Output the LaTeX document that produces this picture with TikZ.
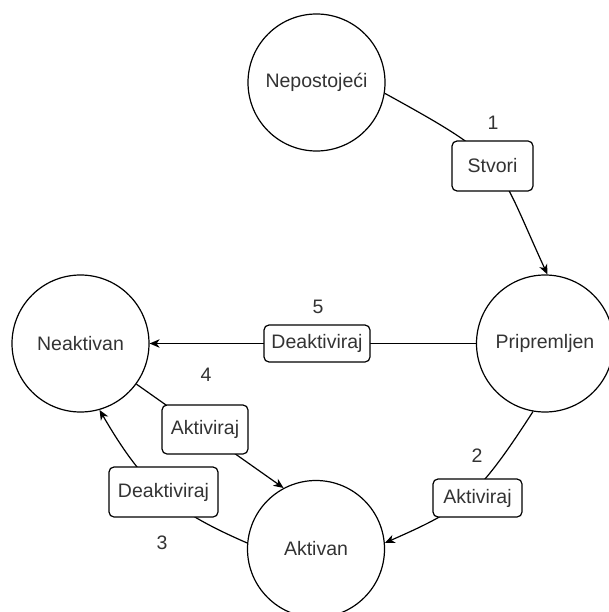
\documentclass[tikz,border=0pt]{standalone}
\usepackage{fontspec}
\setmainfont{Liberation Sans}
\usetikzlibrary{arrows.meta}
\definecolor{txt}{HTML}{333333}
\begin{document}
\begin{tikzpicture}[x=1pt,y=-1pt,
  txtfont/.style={text=txt, font=\fontsize{19.5}{23}\selectfont},
  state/.style={circle, draw=black, line width=1.2pt, minimum size=137pt, inner sep=0pt, txtfont},
  lbl/.style={draw=black, line width=1.2pt, rounded corners=5pt, fill=white, inner sep=0pt, txtfont},
  num/.style={txtfont, inner sep=0pt},
  edge/.style={line width=1.2pt, draw=black},
  arr/.style={edge, -{Stealth[length=10pt,width=8.5pt,inset=3pt]}}
]
\useasboundingbox (0,0) rectangle (608,612);

% states
\node[state] (N)  at (316.5,82.5) {Nepostoje\'ci};
\node[state] (P)  at (545,343.5)  {Pripremljen};
\node[state] (Na) at (80.5,343.5) {Neaktivan};
\node[state] (A)  at (316,549)    {Aktivan};

% transitions
\draw[arr] (N.-9) .. controls (509,161.6) and (494.2,158.7) .. (P.88);
\draw[arr] (P.-100) .. controls (475.3,500.8) and (461,509.2) .. (A.5);
\draw[arr] (A.175) .. controls (171.3,510) and (143.75,485.8) .. (Na.-74);
\draw[arr] (Na.-36) -- (A.118);
\draw[arr] (P.180) -- (Na.0);

% transition labels
\node[lbl, minimum width=81pt,  minimum height=50pt] (l1) at (492.5,166)   {Stvori};
\node[lbl, minimum width=89pt,  minimum height=38pt] (l2) at (477.5,498)   {Aktiviraj};
\node[lbl, minimum width=109pt, minimum height=50pt] (l3) at (163.5,492)   {Deaktiviraj};
\node[lbl, minimum width=86pt,  minimum height=49pt] (l4) at (205,429.5)   {Aktiviraj};
\node[lbl, minimum width=106pt, minimum height=37pt] (l5) at (317,343.5)   {Deaktiviraj};

% numbers
\node[num] (n1) at (493,123) {1};
\node[num] (n2) at (477,456) {2};
\node[num] (n3) at (162,543) {3};
\node[num] (n4) at (206,375) {4};
\node[num] (n5) at (318,307) {5};
\end{tikzpicture}
\end{document}
